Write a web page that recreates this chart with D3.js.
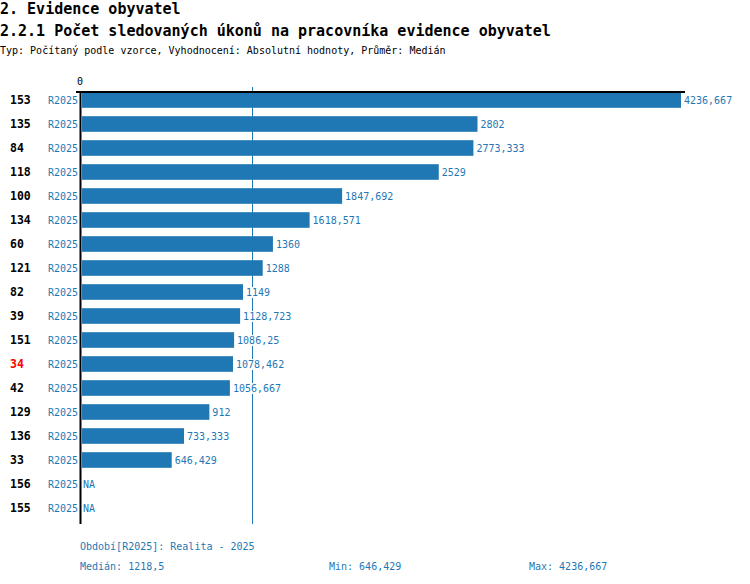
<!DOCTYPE html>
<html>
<head>
<meta charset="utf-8">
<script src="https://cdn.jsdelivr.net/npm/d3@7"></script>
<style>
body{margin:0;background:#fff;}
svg text{font-family:"DejaVu Sans Mono","Liberation Mono",monospace;}
</style>
</head>
<body>
<div id="chart"></div>
<script>
// data
var ids=["153","135","84","118","100","134","60","121","82","39","151","34","42","129","136","33","156","155"];
var values=[4236.667,2802,2773.333,2529,1847.692,1618.571,1360,1288,1149,1128.723,1086.25,1078.462,1056.667,912,733.333,646.429,null,null];
var highlight="34";
var period="R2025";
var median=1218.5, minVal=646.429, maxVal=4236.667;

var W=750,H=584;
var blue="#1f77b4";
var fmt=function(v){ return String(+v.toFixed(3)).replace(".",","); };

var svg=d3.select("#chart").append("svg").attr("width",W).attr("height",H);

svg.append("text").attr("x",0).attr("y",14).attr("font-size",15).attr("font-weight","bold").text("2. Evidence obyvatel");
svg.append("text").attr("x",0).attr("y",36).attr("font-size",15).attr("font-weight","bold").text("2.2.1 Počet sledovaných úkonů na pracovníka evidence obyvatel");
svg.append("text").attr("x",0).attr("y",54).attr("font-size",10).text("Typ: Počítaný podle vzorce, Vyhodnocení: Absolutní hodnoty, Průměr: Medián");

var x=d3.scaleLinear().domain([0,maxVal]).range([80,681]);
var y=d3.scaleBand().domain(ids).range([88,520]).paddingInner(0.35).paddingOuter(0.175);

// median line (under the bars)
svg.append("line").attr("x1",Math.round(x(median))-0.5).attr("x2",Math.round(x(median))-0.5)
  .attr("y1",87).attr("y2",524).attr("stroke",blue).attr("stroke-width",1);

// bars
svg.selectAll("rect.bar").data(ids.filter(function(d,i){return values[i]!=null;}))
  .enter().append("rect").attr("class","bar")
  .attr("x",x(0)+2).attr("y",function(d){return y(d);})
  .attr("width",function(d){return x(values[ids.indexOf(d)])-x(0)-2;})
  .attr("height",y.bandwidth()).attr("fill",blue);

// value labels on white background
var vg=svg.selectAll("g.val").data(ids).enter().append("g").attr("class","val");
vg.append("rect").attr("fill","#fff");
vg.append("text")
  .attr("x",function(d,i){return values[i]==null?x(0)+3:x(values[i])+3;})
  .attr("y",function(d){return y(d)+y.bandwidth()/2+4;})
  .attr("font-size",10).attr("fill",blue)
  .text(function(d,i){return values[i]==null?"NA":fmt(values[i]);});
vg.each(function(){
  var g=d3.select(this), t=g.select("text").node(), b=t.getBBox();
  g.select("rect").attr("x",b.x-1).attr("y",b.y).attr("width",b.width+2).attr("height",b.height);
});

// id labels
svg.selectAll("text.id").data(ids).enter().append("text").attr("class","id")
  .attr("x",10).attr("y",function(d){return y(d)+y.bandwidth()/2+4;})
  .attr("font-size",11.5).attr("font-weight","bold")
  .attr("fill",function(d){return d===highlight?"#ff0000":"#000";})
  .text(function(d){return d;});

svg.selectAll("text.per").data(ids).enter().append("text").attr("class","per")
  .attr("x",78).attr("text-anchor","end").attr("y",function(d){return y(d)+y.bandwidth()/2+4;})
  .attr("font-size",10).attr("fill",blue).text(period);

// axes
svg.append("line").attr("x1",76).attr("x2",685).attr("y1",92).attr("y2",92).attr("stroke","#000").attr("stroke-width",2);
svg.append("line").attr("x1",80.5).attr("x2",80.5).attr("y1",91).attr("y2",524).attr("stroke","#000").attr("stroke-width",2);
svg.append("text").attr("x",x(0)).attr("y",85).attr("text-anchor","middle").attr("font-size",10).text("0");

// footer
svg.append("text").attr("x",80).attr("y",550).attr("font-size",10).attr("fill",blue).text("Období["+period+"]: Realita - 2025");
svg.append("text").attr("x",80).attr("y",570).attr("font-size",10).attr("fill",blue).text("Medián: "+fmt(median));
svg.append("text").attr("x",329).attr("y",570).attr("font-size",10).attr("fill",blue).text("Min: "+fmt(minVal));
svg.append("text").attr("x",529).attr("y",570).attr("font-size",10).attr("fill",blue).text("Max: "+fmt(maxVal));
</script>
</body>
</html>
